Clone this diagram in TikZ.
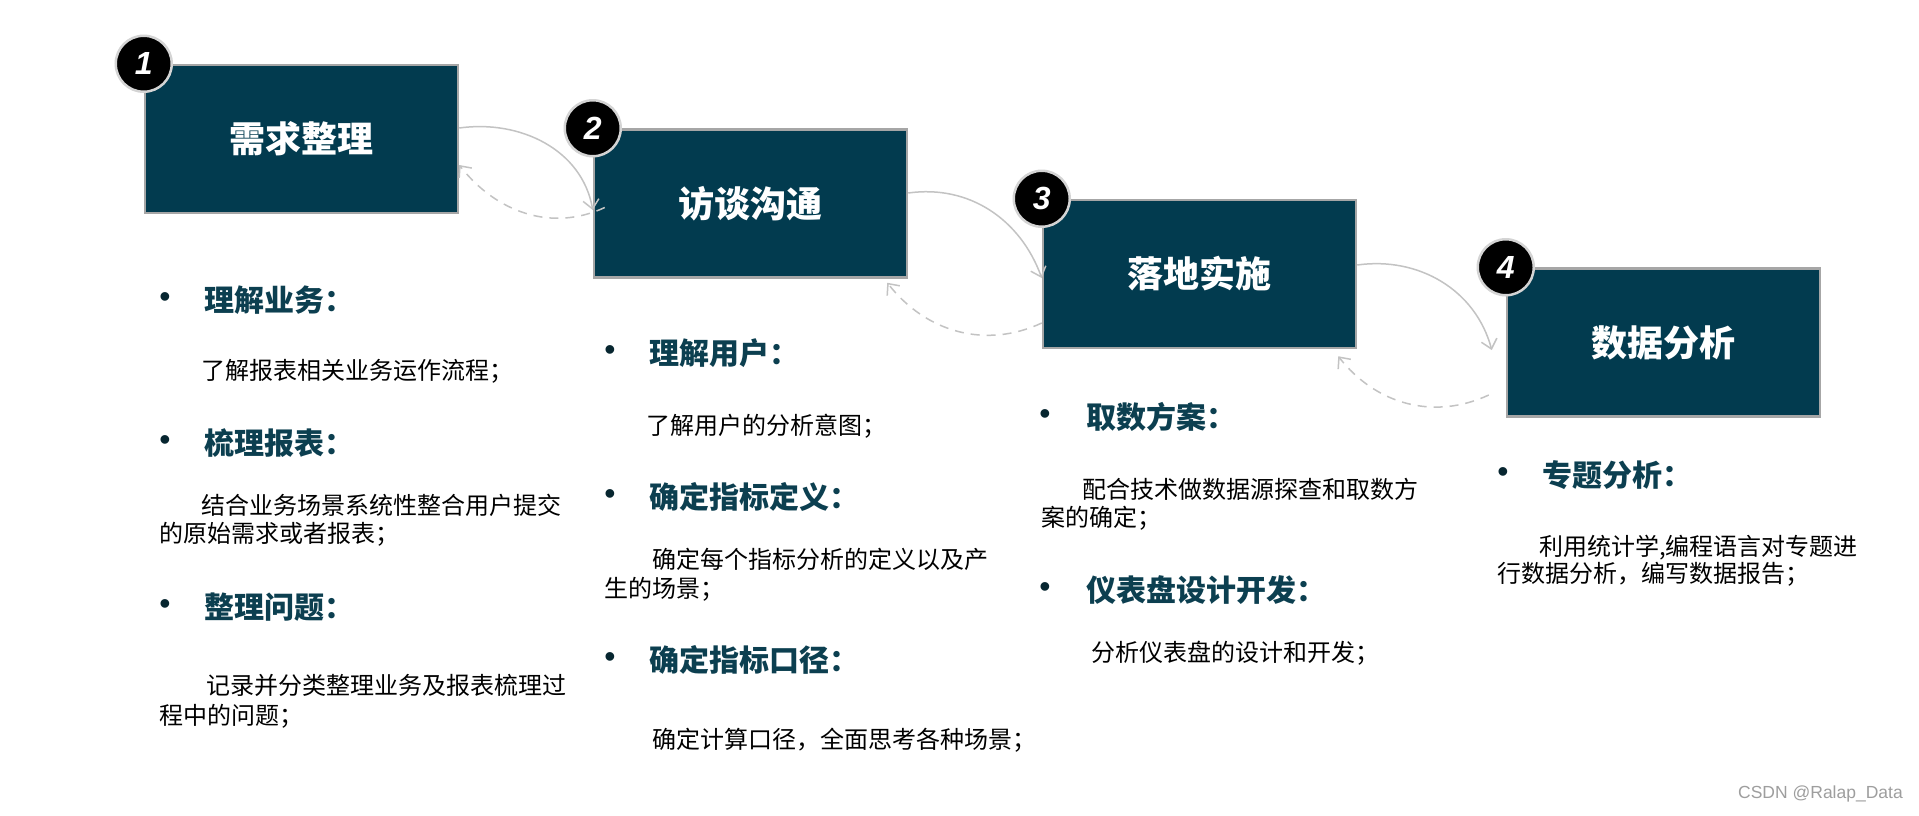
\documentclass[tikz,border=0pt]{standalone}
\usepackage{fontspec}
\setmainfont{Noto Sans CJK SC}
\newfontfamily\numfont{Liberation Sans}
\usetikzlibrary{arrows.meta}
\definecolor{boxteal}{HTML}{023B4F}
\definecolor{headteal}{HTML}{0C3F50}
\definecolor{boxedge}{HTML}{A6A6A6}
\definecolor{arrowgray}{HTML}{C3C3C3}
\definecolor{ringgray}{HTML}{D4D4D4}
\definecolor{markgray}{HTML}{9E9E9E}
\tikzset{
  stagebox/.style={draw=boxedge, line width=2.5pt, fill=boxteal, minimum width=313pt, minimum height=148pt, inner sep=0pt, text=white, font=\fontsize{36}{42}\selectfont\bfseries},
  numcirc/.style={circle, draw=ringgray, line width=2.5pt, fill=black, minimum size=56pt, inner sep=0pt, text=white, font=\numfont\fontsize{32}{36}\selectfont\bfseries\itshape},
  headtxt/.style={anchor=base west, inner sep=0pt, text=headteal, font=\fontsize{30}{36}\selectfont\bfseries},
  bodytxt/.style={anchor=base west, inner sep=0pt, text=black, font=\fontsize{24}{29}\selectfont},
  bulletdot/.style={anchor=center, inner sep=0pt, text=headteal!60!black, font=\numfont\fontsize{32}{36}\selectfont},
  conn/.style={draw=arrowgray, line width=1.5pt, -{Straight Barb[length=9pt,width=16pt]}},
  backconn/.style={conn, dash pattern=on 9pt off 7pt},
}
\begin{document}
\begin{tikzpicture}[x=1pt,y=-1pt]
\useasboundingbox[fill=white] (0,0) rectangle (1919,815);

% stage boxes
\node[stagebox] (b1) at (301.5,139) {需求整理};
\node[stagebox] (b2) at (750.5,203.5) {访谈沟通};
\node[stagebox] (b3) at (1199.5,274) {落地实施};
\node[stagebox] (b4) at (1663.5,342.5) {数据分析};

% number circles
\node[numcirc] (n1) at (b1.north west) {1};
\node[numcirc] (n2) at (b2.north west) {2};
\node[numcirc] (n3) at (b3.north west) {3};
\node[numcirc] (n4) at (b4.north west) {4};

% connectors
\draw[conn] ([yshift=11pt]b1.east) to[out=8,in=100] ([yshift=-6.5pt]b2.west);
\draw[backconn] ([xshift=12pt,yshift=-4pt]b2.west) to[out=205,in=-52] ([yshift=-26pt]b1.east);
\draw[conn] ([yshift=10.5pt]b2.east) to[out=8,in=110] ([yshift=-4pt]b3.west);
\draw[backconn] ([yshift=-49pt]b3.west) to[out=205,in=-52] ([xshift=-21pt,yshift=-4pt]b2.south east);
\draw[conn] ([yshift=9pt]b3.east) to[out=8,in=105] ([xshift=-14pt,yshift=-7.5pt]b4.west);
\draw[backconn] ([xshift=-17pt,yshift=-52.5pt]b4.west) to[out=205,in=-52] ([xshift=-19pt,yshift=-7pt]b3.south east);

% column 1
\node[bulletdot] (c1d1) at (165,300) {•};
\node[headtxt] (c1h1) at (204,311) {理解业务：};
\node[bodytxt] (c1t1) at (201,379) {了解报表相关业务运作流程；};
\node[bulletdot] (c1d2) at (165,443) {•};
\node[headtxt] (c1h2) at (204,454) {梳理报表：};
\node[bodytxt] (c1t2) at (201,514) {结合业务场景系统性整合用户提交};
\node[bodytxt] (c1t3) at (159,542) {的原始需求或者报表；};
\node[bulletdot] (c1d3) at (165,607) {•};
\node[headtxt] (c1h3) at (204,618) {整理问题：};
\node[bodytxt] (c1t4) at (206,694) {记录并分类整理业务及报表梳理过};
\node[bodytxt] (c1t5) at (159,724) {程中的问题；};

% column 2
\node[bulletdot] (c2d1) at (610,353) {•};
\node[headtxt] (c2h1) at (649,364) {理解用户：};
\node[bodytxt] (c2t1) at (646,434) {了解用户的分析意图；};
\node[bulletdot] (c2d2) at (610,497) {•};
\node[headtxt] (c2h2) at (649,508) {确定指标定义：};
\node[bodytxt] (c2t2) at (652,568) {确定每个指标分析的定义以及产};
\node[bodytxt] (c2t3) at (604,597) {生的场景；};
\node[bulletdot] (c2d3) at (610,660) {•};
\node[headtxt] (c2h3) at (649,671) {确定指标口径：};
\node[bodytxt] (c2t4) at (652,748) {确定计算口径，全面思考各种场景；};

% column 3
\node[bulletdot] (c3d1) at (1045,417) {•};
\node[headtxt] (c3h1) at (1086,428) {取数方案：};
\node[bodytxt] (c3t1) at (1082,498) {配合技术做数据源探查和取数方};
\node[bodytxt] (c3t2) at (1041,526) {案的确定；};
\node[bulletdot] (c3d2) at (1045,590) {•};
\node[headtxt] (c3h2) at (1086,601) {仪表盘设计开发：};
\node[bodytxt] (c3t3) at (1091,661) {分析仪表盘的设计和开发；};

% column 4
\node[bulletdot] (c4d1) at (1503,475) {•};
\node[headtxt] (c4h1) at (1542,486) {专题分析：};
\node[bodytxt] (c4t1) at (1539,555) {利用统计学,编程语言对专题进};
\node[bodytxt] (c4t2) at (1497,582) {行数据分析，编写数据报告；};

% watermark
\node[anchor=east, inner sep=0pt, text=markgray, font=\numfont\fontsize{17.5}{20}\selectfont] (wm) at (1903,794) {CSDN @Ralap\_Data};
\end{tikzpicture}
\end{document}
